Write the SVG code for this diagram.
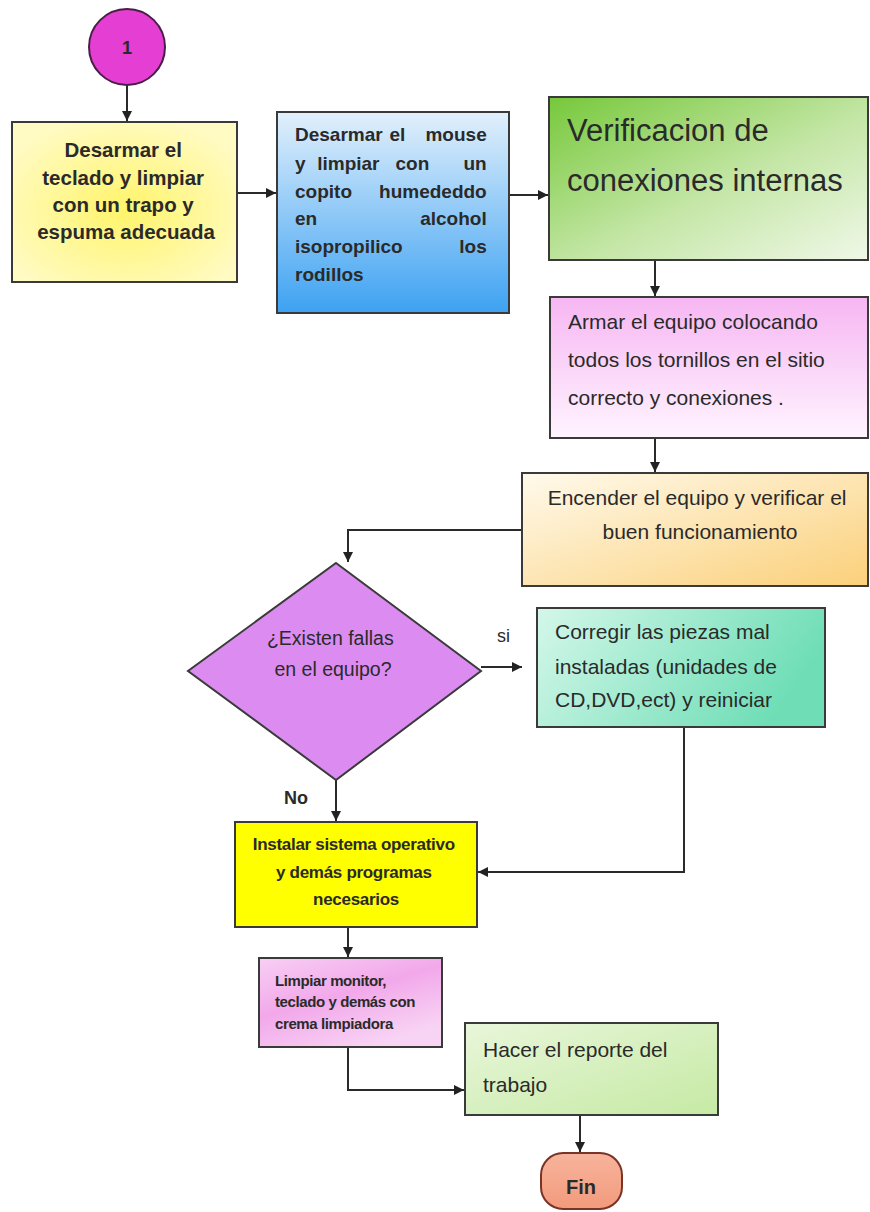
<svg xmlns="http://www.w3.org/2000/svg" width="870" height="1212" viewBox="0 0 870 1212">
<defs>
<marker id="ah" viewBox="0 0 10 10" refX="10" refY="5" markerWidth="5" markerHeight="5" orient="auto" markerUnits="strokeWidth"><path d="M0,0 L10,5 L0,10 z" fill="#222"/></marker>
<radialGradient id="gY1" cx="0.5" cy="0.55" r="0.6"><stop offset="0" stop-color="#FFF46A"/><stop offset="1" stop-color="#FFFBC2"/></radialGradient>
<linearGradient id="gBlue" x1="0" y1="0" x2="0" y2="1"><stop offset="0" stop-color="#E2F0FC"/><stop offset="1" stop-color="#3DA2F2"/></linearGradient>
<linearGradient id="gGreen" x1="0" y1="0" x2="1" y2="1"><stop offset="0" stop-color="#76C83A"/><stop offset="0.55" stop-color="#C4E6A6"/><stop offset="1" stop-color="#F0F8E8"/></linearGradient>
<linearGradient id="gPink" x1="0" y1="0" x2="0" y2="1"><stop offset="0" stop-color="#F6B6F2"/><stop offset="1" stop-color="#FFF4FF"/></linearGradient>
<linearGradient id="gOrange" x1="0" y1="0" x2="1" y2="1"><stop offset="0" stop-color="#FFFAEC"/><stop offset="1" stop-color="#FBD07A"/></linearGradient>
<linearGradient id="gTeal" x1="0" y1="0" x2="1" y2="0.3"><stop offset="0" stop-color="#D4F7EA"/><stop offset="1" stop-color="#6FDEB6"/></linearGradient>
<linearGradient id="gPink2" x1="0" y1="0" x2="0.6" y2="1"><stop offset="0" stop-color="#F8CFF4"/><stop offset="0.5" stop-color="#F2A8EA"/><stop offset="1" stop-color="#F8D4F4"/></linearGradient>
<linearGradient id="gGreen2" x1="0" y1="0" x2="1" y2="1"><stop offset="0" stop-color="#E8F6DA"/><stop offset="1" stop-color="#C6EAA4"/></linearGradient>
<linearGradient id="gFin" x1="0" y1="0" x2="0" y2="1"><stop offset="0" stop-color="#F7B49C"/><stop offset="1" stop-color="#F39A7C"/></linearGradient>
<style>
.box{stroke:#3a3a3a;stroke-width:2}
.t{font-family:"Liberation Sans",Arial,sans-serif;fill:#2a2a2a}
.b{font-weight:bold}
.c{fill:none;stroke:#2a2a2a;stroke-width:2}
</style>
</defs>

<g id="connectors">
<path class="c" d="M127,85 V121" marker-end="url(#ah)"/>
<path class="c" d="M237,193 H276" marker-end="url(#ah)"/>
<path class="c" d="M509,195 H548" marker-end="url(#ah)"/>
<path class="c" d="M655,260 V296" marker-end="url(#ah)"/>
<path class="c" d="M655,438 V472" marker-end="url(#ah)"/>
<path class="c" d="M522,530 H348 V562" marker-end="url(#ah)"/>
<path class="c" d="M481,667 H522" marker-end="url(#ah)"/>
<path class="c" d="M336,780 V821" marker-end="url(#ah)"/>
<path class="c" d="M684,727 V872 H478" marker-end="url(#ah)"/>
<path class="c" d="M348,927 V957" marker-end="url(#ah)"/>
<path class="c" d="M348,1047 V1090 H464" marker-end="url(#ah)"/>
<path class="c" d="M580,1115 V1152" marker-end="url(#ah)"/>
</g>

<g id="n-start">
<circle cx="127" cy="47" r="38" fill="#E43ED2" stroke="#4a1e46" stroke-width="2"/>
<text class="t b" x="127" y="54" font-size="18" text-anchor="middle">1</text>
</g>

<g id="n-teclado">
<rect class="box" x="12" y="122" width="225" height="160" fill="url(#gY1)"/>
<text class="t b" font-size="20.5" text-anchor="middle">
<tspan x="126" y="157">Desarmar el</tspan>
<tspan x="126" y="185">teclado y limpiar</tspan>
<tspan x="126" y="212">con un trapo y</tspan>
<tspan x="126" y="239">espuma adecuada</tspan>
</text>
</g>

<g id="n-mouse">
<rect class="box" x="277" y="112" width="232" height="201" fill="url(#gBlue)"/>
<text class="t b" font-size="19">
<tspan x="295" y="141">Desarmar</tspan>
<tspan x="400" y="141" text-anchor="middle">el</tspan>
<tspan x="492" y="141" text-anchor="end">mouse</tspan>
<tspan x="295" y="170">y</tspan>
<tspan x="351" y="170" text-anchor="middle">limpiar</tspan>
<tspan x="415" y="170" text-anchor="middle">con</tspan>
<tspan x="492" y="170" text-anchor="end">un</tspan>
<tspan x="295" y="198">copito</tspan>
<tspan x="492" y="198" text-anchor="end">humededdo</tspan>
<tspan x="295" y="225">en</tspan>
<tspan x="492" y="225" text-anchor="end">alcohol</tspan>
<tspan x="295" y="253">isopropilico</tspan>
<tspan x="492" y="253" text-anchor="end">los</tspan>
<tspan x="295" y="281">rodillos</tspan>
</text>
</g>

<g id="n-verificacion">
<rect class="box" x="549" y="97" width="319" height="163" fill="url(#gGreen)"/>
<text class="t" font-size="31" fill="#1e2a18">
<tspan x="567" y="141">Verificacion de</tspan>
<tspan x="567" y="191">conexiones internas</tspan>
</text>
</g>

<g id="n-armar">
<rect class="box" x="550" y="297" width="318" height="141" fill="url(#gPink)"/>
<text class="t" font-size="21">
<tspan x="568" y="329">Armar el equipo colocando</tspan>
<tspan x="568" y="367">todos los tornillos en el sitio</tspan>
<tspan x="568" y="405">correcto y conexiones .</tspan>
</text>
</g>

<g id="n-encender">
<rect class="box" x="522" y="473" width="346" height="113" fill="url(#gOrange)"/>
<text class="t" font-size="21" text-anchor="middle">
<tspan x="700" y="505">Encender el equipo y verificar el</tspan>
<tspan x="700" y="539">buen funcionamiento</tspan>
</text>
</g>

<g id="n-decision">
<polygon class="box" points="336,563 481,671 336,780 188,671" fill="#DC8CF0"/>
<text class="t" font-size="19.5" text-anchor="middle">
<tspan x="333" y="645">¿Existen fallas</tspan>
<tspan x="333" y="676">en el equipo?</tspan>
</text>
<text class="t" x="497" y="642" font-size="18">si</text>
<text class="t b" x="284" y="804" font-size="18">No</text>
</g>

<g id="n-corregir">
<rect class="box" x="537" y="608" width="288" height="119" fill="url(#gTeal)"/>
<text class="t" font-size="21">
<tspan x="555" y="639">Corregir las piezas mal</tspan>
<tspan x="555" y="674">instaladas (unidades de</tspan>
<tspan x="555" y="707">CD,DVD,ect) y reiniciar</tspan>
</text>
</g>

<g id="n-instalar">
<rect class="box" x="235" y="822" width="242" height="105" fill="#FFFF00"/>
<text class="t b" font-size="17" letter-spacing="-0.3" text-anchor="middle">
<tspan x="356" y="850">Instalar sistema operativo</tspan>
<tspan x="356" y="878">y demás programas</tspan>
<tspan x="356" y="905">necesarios</tspan>
</text>
</g>

<g id="n-limpiar">
<rect class="box" x="259" y="958" width="183" height="89" fill="url(#gPink2)"/>
<text class="t b" font-size="15" letter-spacing="-0.4">
<tspan x="275" y="986">Limpiar monitor,</tspan>
<tspan x="275" y="1007">teclado y demás con</tspan>
<tspan x="275" y="1029">crema limpiadora</tspan>
</text>
</g>

<g id="n-reporte">
<rect class="box" x="465" y="1023" width="253" height="92" fill="url(#gGreen2)"/>
<text class="t" font-size="21">
<tspan x="483" y="1057">Hacer el reporte del</tspan>
<tspan x="483" y="1092">trabajo</tspan>
</text>
</g>

<g id="n-fin">
<rect x="541" y="1153" width="81" height="56" rx="22" ry="22" fill="url(#gFin)" stroke="#7a3426" stroke-width="2"/>
<text class="t b" x="581" y="1194" font-size="20" text-anchor="middle">Fin</text>
</g>
</svg>
